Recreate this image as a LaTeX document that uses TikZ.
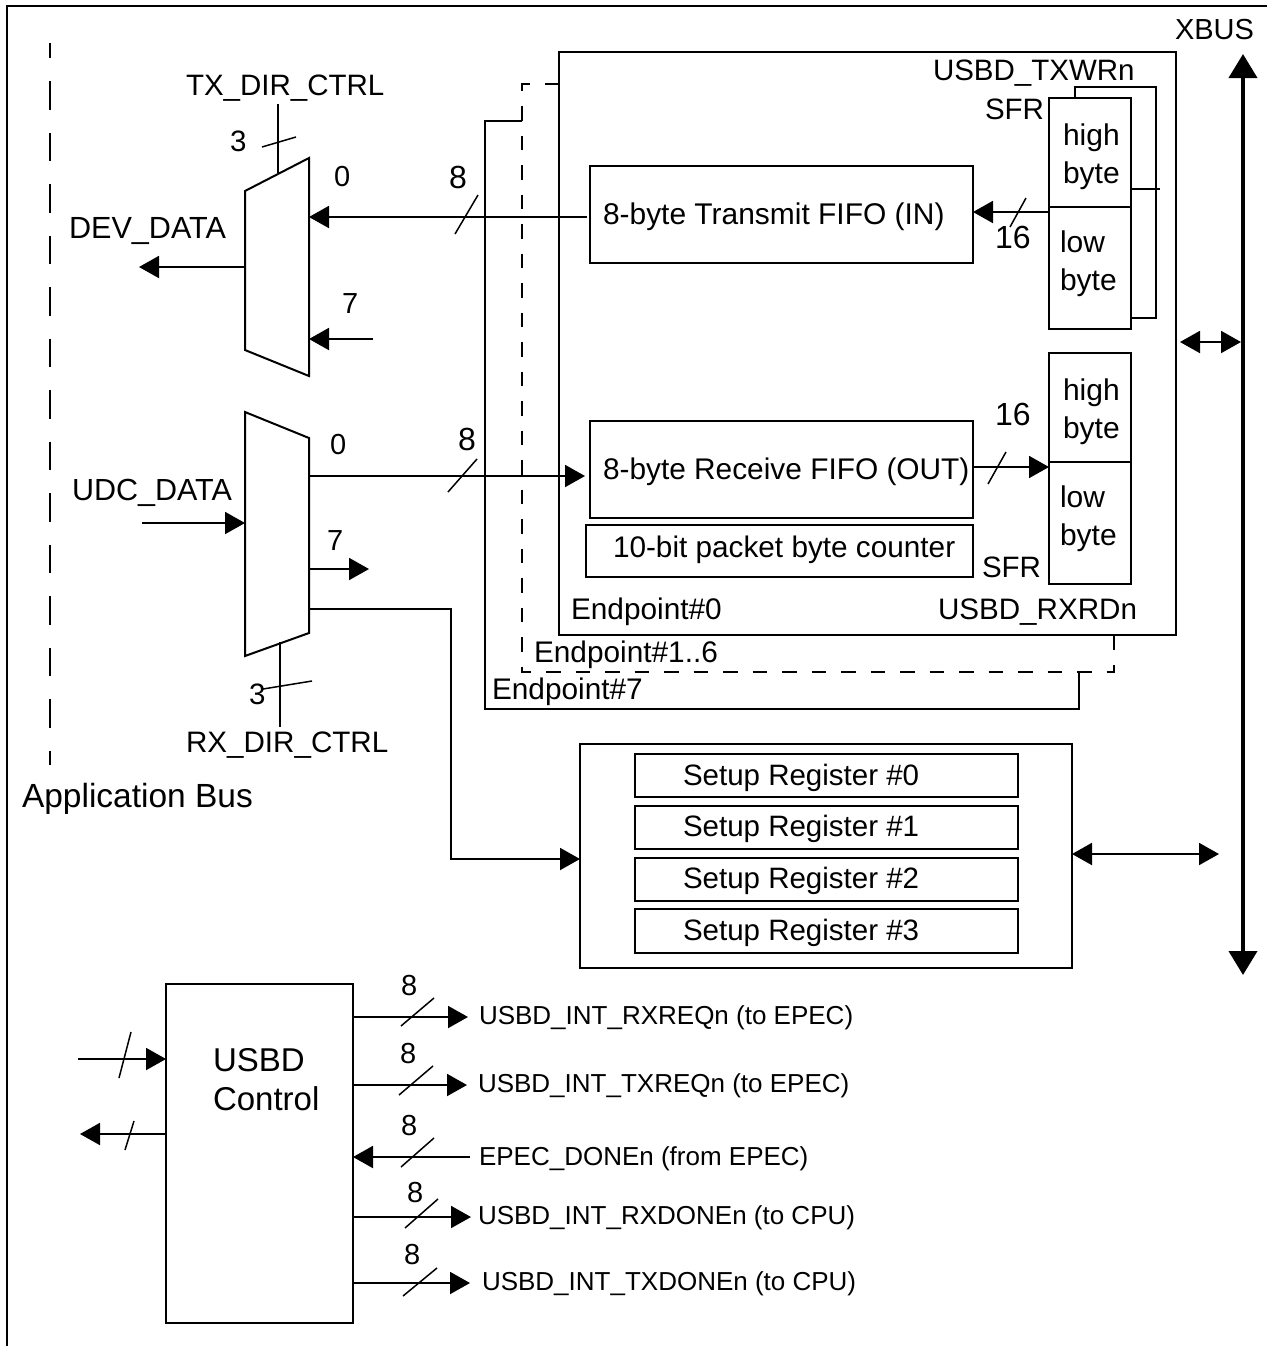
\documentclass[tikz,border=0pt]{standalone}
\usepackage{fontspec}
\setmainfont{Liberation Sans}
\usetikzlibrary{arrows.meta,calc}
\tikzset{
  boxst/.style={draw=black,line width=1pt,fill=none,rectangle,inner sep=0pt,outer sep=0pt},
  wire/.style={draw=black,line width=1pt},
  arr/.style={wire,-{Triangle[length=10pt,width=11pt]}},
  biarr/.style={wire,{Triangle[length=10pt,width=11pt]}-{Triangle[length=10pt,width=11pt]}},
  busarr/.style={draw=black,line width=2pt,{Triangle[length=12pt,width=14pt]}-{Triangle[length=12pt,width=14pt]}},
  tick/.style={draw=black,line width=.75pt},
  endp/.style={wire,dash pattern=on 7.25pt off 7.5pt},
  appbus/.style={wire,dash pattern=on 14.25pt off 11.5pt,dash phase=6.75pt},
  muxst/.style={wire,line join=miter},
  txt/.style={anchor=base west,inner sep=0pt,outer sep=0pt,text=black}
}
\newcommand\boxat[5]{%
  \pgfmathsetmacro\mw{(#4-#2)*0.5}\pgfmathsetmacro\mh{(#5-#3)*0.5}%
  \node[boxst,minimum width=\mw pt,minimum height=\mh pt] (#1) at ({(#2+#4)/2},{(#3+#5)/2}) {};}
\newcommand\lbl[5]{\node[txt,font=\fontsize{#4}{#4}\selectfont] (#1) at (#2,#3) {#5};}
\begin{document}
\begin{tikzpicture}[x=0.5pt,y=-0.5pt]
\useasboundingbox (0,0) rectangle (1267,1346);
\fill[white] (0,0) rectangle (1267,1346);
% frame
\coordinate (fa) at (7,1346); \coordinate (fb) at (7,6); \coordinate (fc) at (1267,6);
\draw[wire] (fa) -- (fb) -- (fc);
% application bus
\coordinate (aba) at (50,43); \coordinate (abb) at (50,765);
\draw[appbus] (aba) -- (abb);
% endpoint back frames
\coordinate (e1a) at (559,84); \coordinate (e1b) at (522,84); \coordinate (e1c) at (522,672);
\coordinate (e1d) at (1114,672); \coordinate (e1e) at (1114,635);
\draw[endp] (e1a) -- (e1b) -- (e1c) -- (e1d) -- (e1e);
\coordinate (e7a) at (522,121); \coordinate (e7b) at (485,121); \coordinate (e7c) at (485,709);
\coordinate (e7d) at (1079,709); \coordinate (e7e) at (1079,672);
\draw[wire] (e7a) -- (e7b) -- (e7c) -- (e7d) -- (e7e);
% boxes
\boxat{ep0}{559}{52}{1176}{635}
\boxat{txfifo}{590}{166}{973}{263}
\boxat{rxfifo}{590}{421}{973}{518}
\boxat{counter}{586}{525}{973}{577}
\coordinate (bsa) at (1075,98); \coordinate (bsb) at (1075,87); \coordinate (bsc) at (1156,87);
\coordinate (bsd) at (1156,318); \coordinate (bse) at (1131,318);
\draw[wire] (bsa) -- (bsb) -- (bsc) -- (bsd) -- (bse);
\boxat{txhigh}{1049}{98}{1131}{207}
\boxat{txlow}{1049}{207}{1131}{329}
\boxat{rxhigh}{1049}{353}{1131}{462}
\boxat{rxlow}{1049}{462}{1131}{584}
\coordinate (stub) at (1160,189);
\draw[wire] (txhigh.east |- stub) -- (stub);
\boxat{setup}{580}{744}{1072}{968}
\boxat{sr0}{635}{754}{1018}{797}
\boxat{sr1}{635}{806}{1018}{849}
\boxat{sr2}{635}{858}{1018}{901}
\boxat{sr3}{635}{909}{1018}{953}
\boxat{ctrl}{166}{984}{353}{1323}
% muxes
\coordinate (tma) at (245,191); \coordinate (tmb) at (309,158); \coordinate (tmc) at (309,376); \coordinate (tmd) at (245,350);
\draw[muxst] (tma) -- (tmb) -- (tmc) -- (tmd) -- cycle;
\coordinate (rma) at (245,412); \coordinate (rmb) at (309,438); \coordinate (rmc) at (309,633); \coordinate (rmd) at (245,656);
\draw[muxst] (rma) -- (rmb) -- (rmc) -- (rmd) -- cycle;
% XBUS
\coordinate (xt) at (1243,54); \coordinate (xb) at (1243,975);
\draw[busarr] (xt) -- (xb);
% connectors upper
\coordinate (tx0) at (309,217); \coordinate (tx7) at (309,339); \coordinate (tx7f) at (373,339);
\coordinate (txout) at (245,267); \coordinate (txoutf) at (139,267);
\coordinate (txca) at (278,104); \coordinate (txcb) at (278,173);
\draw[arr,shorten <=1.5pt] (txfifo.west |- tx0) -- (tx0);
\draw[arr] (tx7f) -- (tx7);
\draw[arr] (txout) -- (txoutf);
\draw[wire] (txca) -- (txcb);
\coordinate (t16) at (1049,212);
\draw[arr] (t16) -- (txfifo.east |- t16);
\coordinate (r16) at (973,467);
\draw[arr] (r16) -- (rxlow.west |- r16);
\coordinate (xba) at (1180,342); \coordinate (xbb) at (1241,342);
\draw[biarr] (xba) -- (xbb);
\coordinate (xbc) at (1219,854);
\draw[biarr] (setup.east |- xbc) -- (xbc);
% connectors lower mux
\coordinate (rx0) at (309,476); \coordinate (rxin) at (245,523); \coordinate (rxinf) at (142,523);
\coordinate (rx7) at (309,569); \coordinate (rx7f) at (369,569);
\coordinate (rxs) at (309,609); \coordinate (rxsa) at (451,609); \coordinate (rxsb) at (451,859);
\coordinate (rxca) at (280,642); \coordinate (rxcb) at (280,727);
\draw[arr,shorten >=2.5pt] (rx0) -- (rxfifo.west |- rx0);
\draw[arr] (rxinf) -- (rxin);
\draw[arr] (rx7) -- (rx7f);
\draw[arr] (rxs) -- (rxsa) -- (rxsb) -- (setup.west |- rxsb);
\draw[wire] (rxca) -- (rxcb);
% control connectors
\coordinate (c1) at (468,1017); \coordinate (c2) at (467,1085); \coordinate (c3) at (470,1157);
\coordinate (c4) at (471,1217); \coordinate (c5) at (470,1283);
\coordinate (ci) at (78,1059); \coordinate (co) at (80,1134);
\draw[arr] (ctrl.east |- c1) -- (c1);
\draw[arr] (ctrl.east |- c2) -- (c2);
\draw[arr] (c3) -- (ctrl.east |- c3);
\draw[arr] (ctrl.east |- c4) -- (c4);
\draw[arr] (ctrl.east |- c5) -- (c5);
\draw[arr] (ci) -- (ctrl.west |- ci);
\draw[arr] (ctrl.west |- co) -- (co);
% bus-width ticks
\draw[tick] (262,147) -- (296,137);
\draw[tick] (455,234) -- (478,195);
\draw[tick] (448,492) -- (477,459);
\draw[tick] (263,689) -- (312,681);
\draw[tick] (1010,227) -- (1026,198);
\draw[tick] (988,484) -- (1006,452);
\draw[tick] (401,1026) -- (434,998);
\draw[tick] (399,1095) -- (433,1066);
\draw[tick] (401,1167) -- (434,1138);
\draw[tick] (405,1228) -- (438,1199);
\draw[tick] (403,1296) -- (437,1268);
\draw[tick] (119,1078) -- (131,1032);
\draw[tick] (125,1150) -- (134,1121);
% labels
\lbl{lxbus}{1175}{39}{14.5}{XBUS}
\lbl{ltxwr}{933}{80}{14.75}{USBD\_TXWRn}
\lbl{lsfra}{985}{119}{14.75}{SFR}
\lbl{lha}{1063}{145}{15}{high}
\lbl{lba}{1063}{183}{15}{byte}
\lbl{lla}{1060}{252}{15}{low}
\lbl{lbb}{1060}{290}{15}{byte}
\lbl{lhb}{1063}{400}{15}{high}
\lbl{lbc}{1063}{438}{15}{byte}
\lbl{llb}{1060}{507}{15}{low}
\lbl{lbd}{1060}{545}{15}{byte}
\lbl{l16a}{995}{248}{16}{16}
\lbl{l16b}{995}{425}{16}{16}
\lbl{ltxf}{603}{224}{14.97}{8-byte Transmit FIFO (IN)}
\lbl{lrxf}{603}{479}{14.92}{8-byte Receive FIFO (OUT)}
\lbl{lcnt}{613}{557}{14.87}{10-bit packet byte counter}
\lbl{lsfrb}{982}{577}{14.75}{SFR}
\lbl{lep0}{571}{619}{14.9}{Endpoint\#0}
\lbl{lrxrd}{938}{619}{14.8}{USBD\_RXRDn}
\lbl{lep1}{534}{662}{14.9}{Endpoint\#1..6}
\lbl{lep7}{492}{699}{14.9}{Endpoint\#7}
\lbl{ltxd}{186}{95}{14.75}{TX\_DIR\_CTRL}
\lbl{l3a}{230}{151}{14.75}{3}
\lbl{l0a}{334}{186}{14.5}{0}
\lbl{l8a}{449}{188}{16}{8}
\lbl{ldev}{69}{238}{15.3}{DEV\_DATA}
\lbl{l7a}{342}{313}{14.5}{7}
\lbl{l0b}{330}{454}{14.5}{0}
\lbl{l8b}{458}{450}{16}{8}
\lbl{ludc}{72}{500}{15.25}{UDC\_DATA}
\lbl{l7b}{327}{550}{14.5}{7}
\lbl{l3b}{249}{704}{14.75}{3}
\lbl{lrxd}{186}{752}{14.8}{RX\_DIR\_CTRL}
\lbl{lapp}{22}{807}{16.75}{Application Bus}
\lbl{ls0}{683}{785}{14.75}{Setup Register \#0}
\lbl{ls1}{683}{836}{14.75}{Setup Register \#1}
\lbl{ls2}{683}{888}{14.75}{Setup Register \#2}
\lbl{ls3}{683}{940}{14.75}{Setup Register \#3}
\lbl{lusbd}{213}{1071}{16.5}{USBD}
\lbl{lctl}{213}{1110}{16.5}{Control}
\lbl{l8c}{401}{995}{14.5}{8}
\lbl{l8d}{400}{1063}{14.5}{8}
\lbl{l8e}{401}{1135}{14.5}{8}
\lbl{l8f}{407}{1202}{14.5}{8}
\lbl{l8g}{404}{1264}{14.5}{8}
\lbl{li1}{479}{1024}{13}{USBD\_INT\_RXREQn (to EPEC)}
\lbl{li2}{478}{1092}{13}{USBD\_INT\_TXREQn (to EPEC)}
\lbl{li3}{479}{1165}{13}{EPEC\_DONEn (from EPEC)}
\lbl{li4}{478}{1224}{13}{USBD\_INT\_RXDONEn (to CPU)}
\lbl{li5}{482}{1290}{13}{USBD\_INT\_TXDONEn (to CPU)}
\end{tikzpicture}
\end{document}
